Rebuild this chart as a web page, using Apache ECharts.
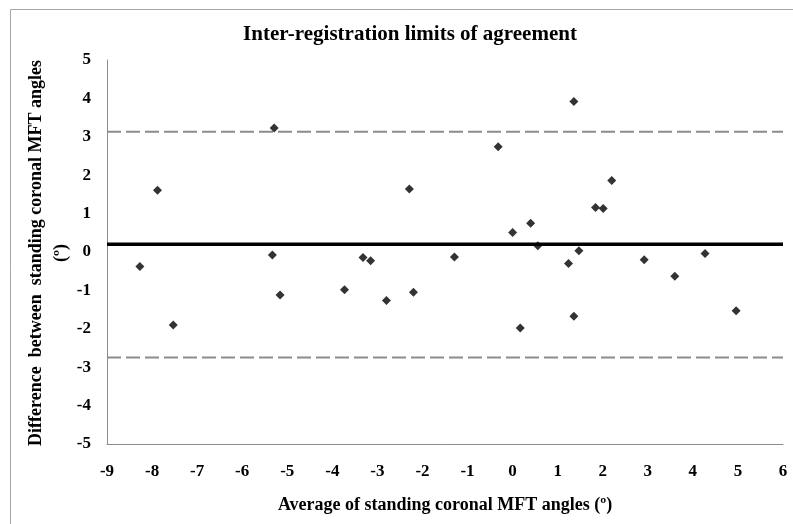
<!DOCTYPE html>
<html>
<head>
<meta charset="utf-8">
<title>Inter-registration limits of agreement</title>
<script src="https://cdn.jsdelivr.net/npm/echarts@6/dist/echarts.min.js"></script>
<style>
  html, body { margin: 0; padding: 0; background: #ffffff; }
  #chart { width: 793px; height: 524px; }
</style>
</head>
<body>
<div id="chart"></div>
<script>
// Average of the two registrations (x) and their difference (y), in degrees
const averages = [
  -8.27, -7.88, -7.53, -5.29, -5.33, -5.16,
  -3.73, -3.32, -3.15, -2.80, -2.29, -2.20, -1.29,
  -0.32, 0.00, 0.17, 0.40, 0.56,
  1.24, 1.36, 1.36, 1.47, 1.84, 2.01, 2.20,
  2.92, 3.60, 4.27, 4.96
];
const differences = [
  -0.38, 1.61, -1.90, 3.23, -0.08, -1.12,
  -0.98, -0.14, -0.23, -1.26, 1.64, -1.05, -0.13,
  2.74, 0.51, -1.98, 0.75, 0.16,
  -0.30, 3.92, -1.67, 0.03, 1.16, 1.13, 1.86,
  -0.20, -0.63, -0.04, -1.53
];

// Mean difference and 95% limits of agreement
const meanDifference = 0.20;
const upperLimit = 3.13;
const lowerLimit = -2.75;

// Axis ranges and ticks
const xTicks = [-9, -8, -7, -6, -5, -4, -3, -2, -1, 0, 1, 2, 3, 4, 5, 6];
const yTicks = [-5, -4, -3, -2, -1, 0, 1, 2, 3, 4, 5];

const xMin = xTicks[0], xMax = xTicks[xTicks.length - 1];
const yMin = yTicks[0], yMax = yTicks[yTicks.length - 1];

const points = averages.map((a, i) => [a, differences[i]]);
const hLine = v => [[xMin, v], [xMax, v]];

const serif = '"Liberation Serif", "Times New Roman", serif';
const axisGray = '#8c8c8c';

const chart = echarts.init(document.getElementById('chart'), null, { renderer: 'canvas' });

chart.setOption({
  backgroundColor: '#ffffff',
  animation: false,
  title: {
    text: 'Inter-registration limits of agreement',
    left: 405,
    top: 19,
    textAlign: 'center',
    textStyle: { fontFamily: serif, fontWeight: 'bold', fontSize: 21, color: '#000' }
  },
  grid: { left: 107, right: 10, top: 60, bottom: 80 },
  xAxis: {
    type: 'value',
    min: xMin, max: xMax, interval: 1,
    name: 'Average of standing coronal MFT angles (º)',
    nameLocation: 'middle',
    nameGap: 52,
    nameTextStyle: { fontFamily: serif, fontWeight: 'bold', fontSize: 18, color: '#000', verticalAlign: 'top' },
    axisLine: { show: true, onZero: false, lineStyle: { color: axisGray, width: 1 } },
    axisTick: { show: false },
    splitLine: { show: false },
    axisLabel: { fontFamily: serif, fontWeight: 'bold', fontSize: 17, color: '#000', margin: 19 }
  },
  yAxis: {
    type: 'value',
    min: yMin, max: yMax, interval: 1,
    axisLine: { show: true, onZero: false, lineStyle: { color: axisGray, width: 1 } },
    axisTick: { show: false },
    splitLine: { show: false },
    axisLabel: { fontFamily: serif, fontWeight: 'bold', fontSize: 17, color: '#000', margin: 16 }
  },
  graphic: [
    {
      type: 'rect',
      shape: { x: 10.5, y: 9.5, width: 800, height: 540 },
      style: { fill: 'none', stroke: '#a6a6a6', lineWidth: 1 },
      silent: true, z: -1
    },
    {
      type: 'text',
      x: 49, y: 253,
      rotation: Math.PI / 2,
      style: {
        text: 'Difference  between  standing coronal MFT angles\n(º)',
        fontFamily: serif, fontWeight: 'bold', fontSize: 18, fill: '#000',
        align: 'center', verticalAlign: 'middle', lineHeight: 25
      }
    }
  ],
  series: [
    {
      name: 'Upper limit',
      type: 'line',
      data: hLine(upperLimit),
      symbol: 'none',
      lineStyle: { color: '#8c8c8c', width: 2, type: [14, 5] },
      z: 1
    },
    {
      name: 'Lower limit',
      type: 'line',
      data: hLine(lowerLimit),
      symbol: 'none',
      lineStyle: { color: '#8c8c8c', width: 2, type: [14, 5] },
      z: 1
    },
    {
      name: 'Mean difference',
      type: 'line',
      data: hLine(meanDifference),
      symbol: 'none',
      lineStyle: { color: '#000', width: 3.5 },
      z: 2
    },
    {
      name: 'Difference',
      type: 'scatter',
      data: points,
      symbol: 'diamond',
      symbolSize: 9,
      itemStyle: { color: '#000' },
      z: 3
    }
  ]
});
</script>
</body>
</html>
